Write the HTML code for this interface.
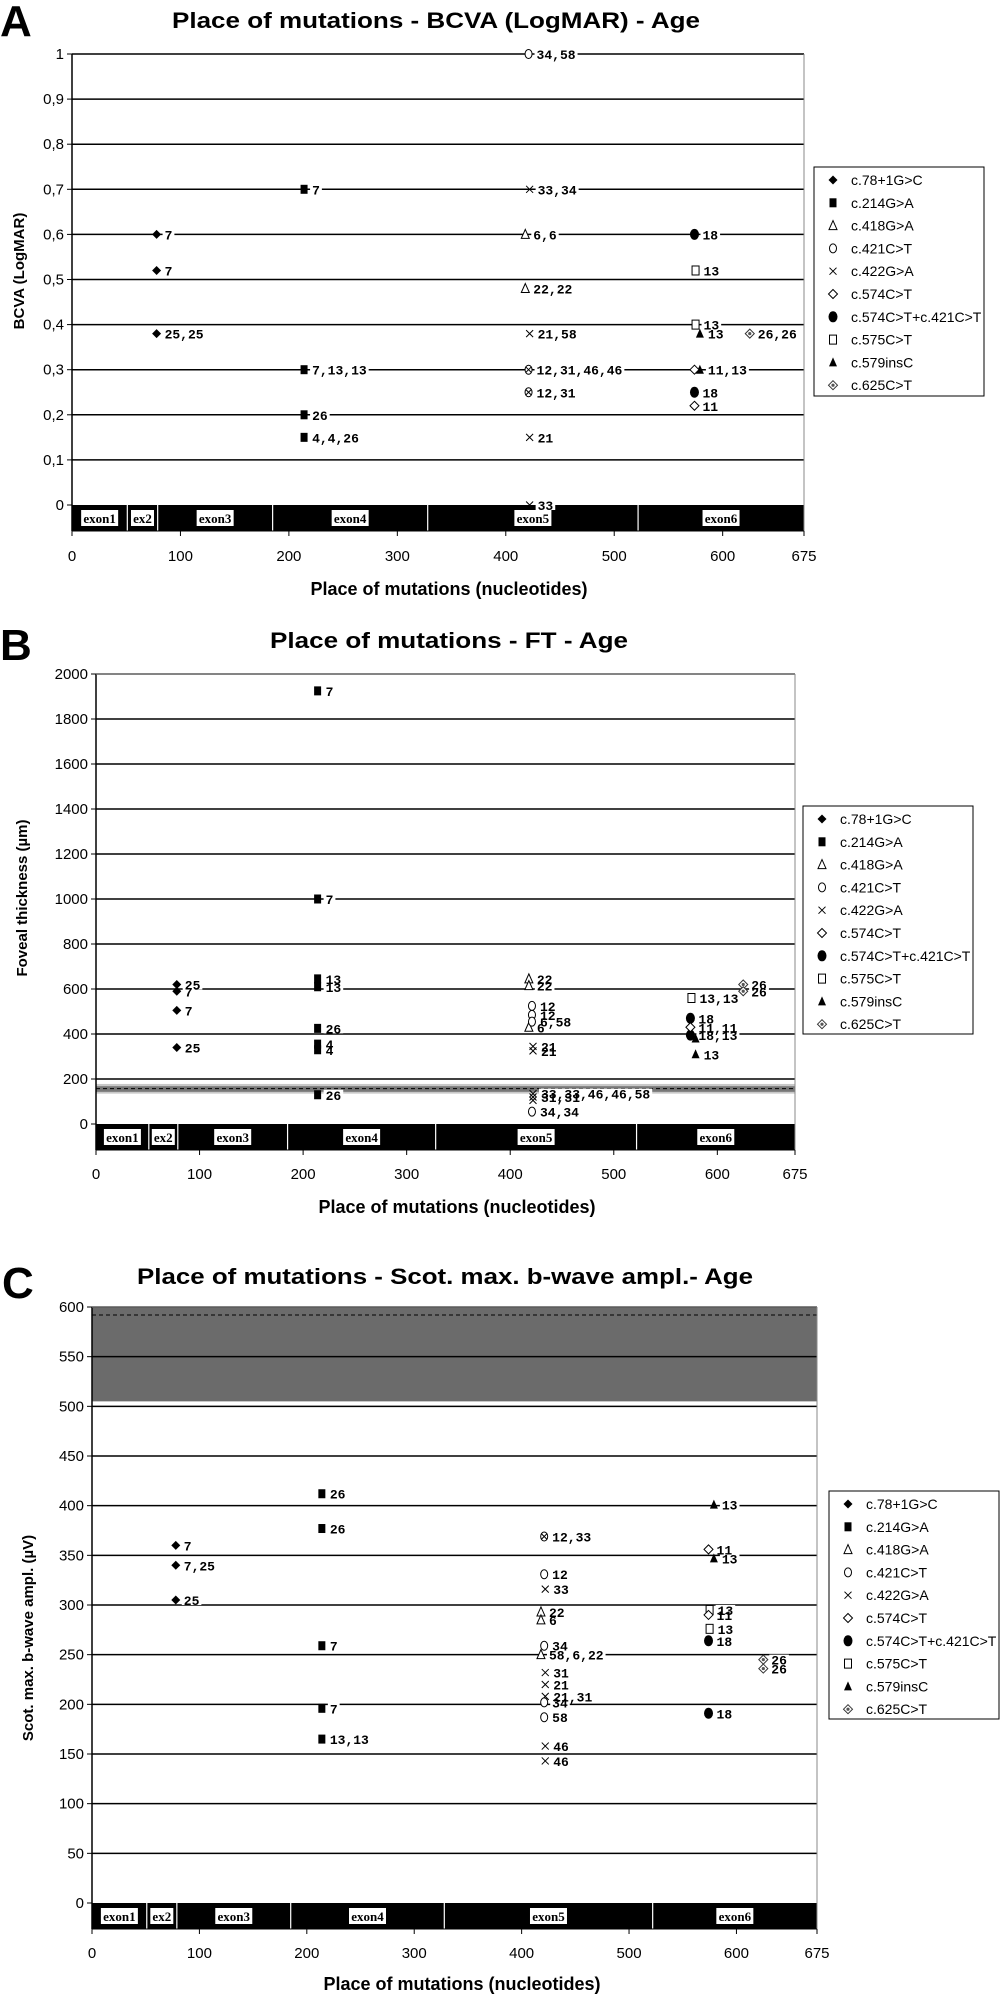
<!DOCTYPE html>
<html><head><meta charset="utf-8">
<style>
html,body{margin:0;padding:0;background:#fff;}
svg{display:block;}
.ttl{font-family:"Liberation Sans Narrow","Liberation Sans",sans-serif;font-weight:bold;font-size:22px;}
.tick{font-family:"Liberation Sans Narrow","Liberation Sans",sans-serif;font-size:15px;}
.axt{font-family:"Liberation Sans",sans-serif;font-weight:bold;font-size:15px;}
.lab{font-family:"Liberation Mono",monospace;font-weight:bold;font-size:13px;}
.leg{font-family:"Liberation Sans Narrow","Liberation Sans",sans-serif;font-size:14px;}
.exon{font-family:"Liberation Serif",serif;font-size:13px;font-weight:bold;}
.big{font-family:"Liberation Sans Narrow","Liberation Sans",sans-serif;font-weight:bold;font-size:44px;}
</style></head>
<body>
<svg id="root" width="1000" height="1994" viewBox="0 0 1000 1994" xmlns="http://www.w3.org/2000/svg"></svg>
<script>
// ---- Chart A data (BCVA) ----
const aPos = [78,78,78,214,214,214,214,421,422,422,422,422,418,418,421,421,574,574,575,575,579,579,574,574,625];
const aVal = [0.6,0.52,0.38,0.7,0.3,0.2,0.15,1.0,0.7,0.38,0.15,0.0,0.6,0.48,0.3,0.25,0.6,0.25,0.52,0.40,0.38,0.3,0.3,0.22,0.38];
const aMark = ["D","D","D","S","S","S","S","o","x","x","x","x","t","t","ox","ox","O","O","s","s","T","T","d","d","dd"];
const aLab = ["7","7","25,25","7","7,13,13","26","4,4,26","34,58","33,34","21,58","21","33","6,6","22,22","12,31,46,46","12,31","18","18","13","13","13","11,13","","11","26,26"];
const aTicks = ["0","0,1","0,2","0,3","0,4","0,5","0,6","0,7","0,8","0,9","1"];

// ---- Chart B data (FT) ----
const bPos = [78,78,78,78,214,214,214,214,214,214,214,214,418,418,418,421,421,421,422,422,422,422,422,421,574,574,574,579,579,575,625,625];
const bVal = [620,590,505,340,1925,1000,645,610,425,355,330,130,645,615,430,525,485,455,345,325,135,120,105,55,470,395,430,380,310,560,620,590];
const bMark = ["D","D","D","D","S","S","S","S","S","S","S","S","t","t","t","o","o","o","x","x","x","x","x","o","O","O","d","T","T","s","dd","dd"];
const bLab = ["25","7","7","25","7","7","13","13","26","4","4","26","22","22","6","12","12","6,58","21","21","33,33,46,46,58","31,31","","34,34","18","18,13","11,11","","13","13,13","26","26"];
const bTicks = ["0","200","400","600","800","1000","1200","1400","1600","1800","2000"];

// ---- Chart C data (Scot. b-wave) ----
const cPos = [78,78,78,214,214,214,214,214,421,421,422,418,418,421,418,422,422,422,421,421,422,422,579,579,574,575,575,574,574,574,625,625];
const cVal = [360,340,305,412,377,259,196,165,369,331,316,293,285,259,250,232,220,208,202,187,158,143,401,347,356,295,276,290,264,191,245,236];
const cMark = ["D","D","D","S","S","S","S","S","ox","o","x","t","t","o","t","x","x","x","o","o","x","x","T","T","d","s","s","d","O","O","dd","dd"];
const cLab = ["7","7,25","25","26","26","7","7","13,13","12,33","12","33","22","6","34","58,6,22","31","21","21,31","34","58","46","46","13","13","11","13","13","11","18","18","26","26"];
const cTicks = ["0","50","100","150","200","250","300","350","400","450","500","550","600"];

const legendNames = ["c.78+1G>C","c.214G>A","c.418G>A","c.421C>T","c.422G>A","c.574C>T","c.574C>T+c.421C>T","c.575C>T","c.579insC","c.625C>T"];
const legendMarks = ["D","S","t","o","x","d","O","s","T","dd"];
const exonNames = ["exon1","ex2","exon3","exon4","exon5","exon6"];
const exonBounds = [0,51,79,185,328,522,675];
const xTicks = [0,100,200,300,400,500,600,675];

const NS="http://www.w3.org/2000/svg";
const root=document.getElementById('root');
function el(tag,attrs,parent,txt){const e=document.createElementNS(NS,tag);for(const k in attrs)e.setAttribute(k,attrs[k]);if(txt!==undefined)e.textContent=txt;(parent||root).appendChild(e);return e;}

function marker(g,m,x,y){
  const r=4.5;
  if(m==="D"){el('polygon',{points:`${x},${y-r} ${x+r},${y} ${x},${y+r} ${x-r},${y}`,fill:'#000'},g);}
  else if(m==="d"){el('polygon',{points:`${x},${y-r} ${x+r},${y} ${x},${y+r} ${x-r},${y}`,fill:'#fff',stroke:'#000','stroke-width':1},g);}
  else if(m==="dd"){el('polygon',{points:`${x},${y-r} ${x+r},${y} ${x},${y+r} ${x-r},${y}`,fill:'#fff',stroke:'#333','stroke-width':1},g);el('circle',{cx:x,cy:y,r:1.6,fill:'#555'},g);}
  else if(m==="S"){el('rect',{x:x-3.5,y:y-4.5,width:7,height:9,fill:'#000'},g);}
  else if(m==="s"){el('rect',{x:x-3.5,y:y-4.5,width:7,height:9,fill:'#fff',stroke:'#000','stroke-width':1},g);}
  else if(m==="t"){el('polygon',{points:`${x},${y-5} ${x+4},${y+4} ${x-4},${y+4}`,fill:'#fff',stroke:'#000','stroke-width':1},g);}
  else if(m==="T"){el('polygon',{points:`${x},${y-5} ${x+4},${y+4} ${x-4},${y+4}`,fill:'#000'},g);}
  else if(m==="o"){el('ellipse',{cx:x,cy:y,rx:3.5,ry:4.5,fill:'#fff',stroke:'#000','stroke-width':1},g);}
  else if(m==="O"){el('ellipse',{cx:x,cy:y,rx:4.5,ry:5.5,fill:'#000'},g);}
  else if(m==="x"){el('path',{d:`M${x-3.5},${y-3.5}L${x+3.5},${y+3.5}M${x+3.5},${y-3.5}L${x-3.5},${y+3.5}`,stroke:'#000','stroke-width':1},g);}
  else if(m==="ox"){el('ellipse',{cx:x,cy:y,rx:3.5,ry:4.5,fill:'#fff',stroke:'#000','stroke-width':1},g);el('path',{d:`M${x-3},${y-3}L${x+3},${y+3}M${x+3},${y-3}L${x-3},${y+3}`,stroke:'#000','stroke-width':1},g);}
}

function chart(cfg,P,V,Mk,Lb,ticks){
  const g=el('g',{});
  
  
  const X=v=>cfg.L+(v/675)*(cfg.R-cfg.L);
  const Y=v=>cfg.y0-(v-cfg.vmin)/(cfg.vmax-cfg.vmin)*(cfg.y0-cfg.yTop);
  const bl=el('text',{x:cfg.letterX,y:cfg.letterY,class:'big'},g,cfg.letter);
  
  
  const tt=el('text',{x:cfg.titleX,y:cfg.titleY,class:'ttl','text-anchor':'middle',textLength:cfg.titleW,lengthAdjust:'spacingAndGlyphs'},g,cfg.title);
  
  
  const pa=el('rect',{x:cfg.L,y:cfg.yTop,width:cfg.R-cfg.L,height:cfg.bot-cfg.yTop,fill:'#fff'},g);
  
  
  if(cfg.band){
    const b=cfg.band;
    if(b.outer){el('rect',{x:cfg.L,y:Y(b.outer[1]),width:cfg.R-cfg.L,height:Y(b.outer[0])-Y(b.outer[1]),fill:'#c8c8c8'},g);}
    const br=el('rect',{x:cfg.L,y:Y(b.hi),width:cfg.R-cfg.L,height:Y(b.lo)-Y(b.hi),fill:b.color},g);
    
    
  }
  for(let i=0;i<ticks.length;i++){
    const v=cfg.vmin+i*cfg.step;
    const y=Y(v);
    if(i>0){const gl=el('line',{x1:cfg.L,x2:cfg.R,y1:y,y2:y,stroke:'#000','stroke-width':1.5},g);
      
      }
    el('line',{x1:cfg.L-5,x2:cfg.L,y1:y,y2:y,stroke:'#000'},g);
    const t=el('text',{x:cfg.L-8,y:y+5,class:'tick','text-anchor':'end'},g,ticks[i]);
    
    
  }
  if(cfg.band&&cfg.band.dash!==undefined){
    const dl=el('line',{x1:cfg.L,x2:cfg.R,y1:Y(cfg.band.dash),y2:Y(cfg.band.dash),stroke:'#000','stroke-width':1,'stroke-dasharray':'4,3'},g);
    
    
  }
  const eb=el('rect',{x:cfg.L,y:cfg.y0,width:cfg.R-cfg.L,height:cfg.bot-cfg.y0,fill:'#000'},g);
  
  
  for(let i=0;i<exonNames.length;i++){
    if(i>0)el('line',{x1:X(exonBounds[i]),x2:X(exonBounds[i]),y1:cfg.y0,y2:cfg.bot,stroke:'#fff','stroke-width':1.2},g);
    const cx=(X(exonBounds[i])+X(exonBounds[i+1]))/2;
    const w=exonNames[i].length*7+2;
    el('rect',{x:cx-w/2,y:cfg.y0+5,width:w,height:16,fill:'#fff'},g);
    const et=el('text',{x:cx,y:cfg.y0+18,class:'exon','text-anchor':'middle'},g,exonNames[i]);
    
    
  }
  el('line',{x1:cfg.L,x2:cfg.L,y1:cfg.yTop,y2:cfg.bot,stroke:'#000','stroke-width':1.5},g);
  el('line',{x1:cfg.R,x2:cfg.R,y1:cfg.yTop,y2:cfg.bot,stroke:'#888','stroke-width':1},g);
  if(cfg.topBorder)el('line',{x1:cfg.L,x2:cfg.R,y1:cfg.yTop,y2:cfg.yTop,stroke:'#888'},g);
  el('line',{x1:cfg.L,x2:cfg.R,y1:cfg.bot,y2:cfg.bot,stroke:'#000','stroke-width':1},g);
  for(const v of xTicks){
    el('line',{x1:X(v),x2:X(v),y1:cfg.bot,y2:cfg.bot+5,stroke:'#000'},g);
    const t=el('text',{x:X(v),y:cfg.xLabY,class:'tick','text-anchor':'middle'},g,String(v));
    
    
  }
  const xt=el('text',{x:cfg.xTitleX,y:cfg.xTitleY,class:'ttl','style':'font-size:18px','text-anchor':'middle'},g,'Place of mutations (nucleotides)');
  
  
  const yt=el('text',{x:0,y:0,class:'axt','text-anchor':'middle',transform:`translate(${cfg.yTitleX},${cfg.yTitleY}) rotate(-90)`},g,cfg.yTitle);
  
  
  // label backgrounds layer, then points, then label texts
  const bgLayer=el('g',{},g);
  const ptLayer=el('g',{},g);
  const txLayer=el('g',{},g);
  for(let i=0;i<P.length;i++){
    const px=X(P[i]),py=Y(V[i]);
    if(Lb[i]){
      const w=Lb[i].length*7.8+4;
      el('rect',{x:px+6,y:py-5,width:w,height:10,fill:'#fff'},bgLayer);
      const lt=el('text',{x:px+8,y:py+5,class:'lab'},txLayer,Lb[i]);
      
      
    }
    const pg=el('g',{},ptLayer);
    
    
    marker(pg,Mk[i],px,py);
  }
  const lg=el('g',{},g);
  
  
  el('rect',{x:cfg.legX,y:cfg.legY,width:cfg.legW,height:cfg.legH,fill:'#fff',stroke:'#000','stroke-width':1},lg);
  for(let i=0;i<legendNames.length;i++){
    const y=cfg.legY+13+i*22.8;
    const eg=el('g',{},lg);
    
    
    marker(eg,legendMarks[i],cfg.legX+19,y);
    el('text',{x:cfg.legX+37,y:y+5,class:'leg'},eg,legendNames[i]);
  }
}

chart({name:'chart-bcva',letter:'A',letterX:0,letterY:36,title:'Place of mutations - BCVA (LogMAR) - Age',titleX:436,titleY:28,titleW:528,
  L:72,R:804,yTop:54,y0:505,bot:531,vmin:0,vmax:1,step:0.1,xLabY:561,xTitleX:449,xTitleY:595,
  yTitle:'BCVA (LogMAR)',yTitleX:24,yTitleY:271,legX:814,legY:167,legW:170,legH:229},aPos,aVal,aMark,aLab,aTicks);

chart({name:'chart-foveal-thickness',letter:'B',letterX:0,letterY:660,title:'Place of mutations - FT - Age',titleX:449,titleY:648,titleW:358,
  L:96,R:795,yTop:674,y0:1124,bot:1150,vmin:0,vmax:2000,step:200,xLabY:1179,xTitleX:457,xTitleY:1213,topBorder:true,
  band:{lo:143,hi:168,outer:[135,178],color:'#777',dash:157},
  yTitle:'Foveal thickness (µm)',yTitleX:27,yTitleY:898,legX:803,legY:806,legW:170,legH:228},bPos,bVal,bMark,bLab,bTicks);

chart({name:'chart-bwave',letter:'C',letterX:2,letterY:1298,title:'Place of mutations - Scot. max. b-wave ampl.- Age',titleX:445,titleY:1284,titleW:616,
  L:92,R:817,yTop:1307,y0:1903,bot:1929,vmin:0,vmax:600,step:50,xLabY:1958,xTitleX:462,xTitleY:1990,topBorder:true,
  band:{lo:505,hi:600,color:'#6b6b6b',dash:592},
  yTitle:'Scot. max. b-wave ampl. (µV)',yTitleX:33,yTitleY:1638,legX:829,legY:1491,legW:170,legH:228},cPos,cVal,cMark,cLab,cTicks);
</script>
</body></html>
